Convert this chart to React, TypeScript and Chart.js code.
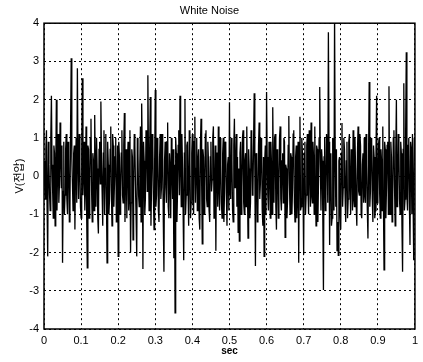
import React, { useEffect, useRef } from 'react';
import { Chart, registerables } from 'chart.js';

Chart.register(...registerables);

const chartTitle = 'White Noise';
const xAxisLabel = 'sec';
const yAxisLabel = 'V(전압)';

const xTickValues = [0, 0.1, 0.2, 0.3, 0.4, 0.5, 0.6, 0.7, 0.8, 0.9, 1];
const xTickLabels = ['0', '0.1', '0.2', '0.3', '0.4', '0.5', '0.6', '0.7', '0.8', '0.9', '1'];
const yTickValues = [-4, -3, -2, -1, 0, 1, 2, 3, 4];
const yTickLabels = ['-4', '-3', '-2', '-1', '0', '1', '2', '3', '4'];

const durationSec = 1;

// Noise samples (even-numbered samples), evenly spaced over 1 s
const samplesEven = [
  0.4, -0.6, 1.2, -2.1, 0.3, -0.9, 2.1, -0.4, 0.8, -1.3,
  2.0, 0.2, -0.7, 1.4, -0.3, -2.27, 0.9, -0.5, 1.1, -1.0,
  0.5, -0.8, 3.08, -0.2, 0.6, -1.4, 1.0, 2.82, -0.6, 0.3,
  -1.1, 2.56, 0.1, -0.9, 1.3, -2.4, 0.7, -0.3, 1.5, -1.2,
  0.4, 1.6, -0.8, 0.2, -1.5, 0.9, 1.95, -0.4, 0.6, -1.0,
  1.1, -2.27, 0.3, -0.6, 1.3, -1.3, 0.8, -0.2, 1.0, -0.9,
  -2.1, 0.5, -0.4, 1.2, -0.7, 1.65, 0.1, -1.1, 0.9, -0.5,
  -2.0, 0.7, -1.67, 1.1, -0.3, -2.1, 0.6, -0.8, 1.3, 1.9,
  -2.43, 0.4, -0.6, 1.0, 2.64, -0.9, 2.07, -0.2, 0.8, -1.4,
  2.25, -0.5, 0.7, -1.2, 1.1, -0.3, 0.5, -2.5, 0.9, -0.7,
  1.4, -1.1, 0.2, 1.0, -0.6, -2.15, -3.58, 0.6, -0.4, 1.2,
  2.1, -0.8, 0.3, -2.2, 2.0, -0.5, 0.9, -1.3, 0.4, -0.7,
  1.1, -1.0, 1.55, 0.2, -0.9, 0.7, -1.4, 1.5, -1.77, 0.5,
  -0.3, 1.2, -0.8, 0.4, -1.2, 0.9, -0.1, 1.3, -0.6, -1.95,
  0.6, 1.3, -0.9, 0.3, -1.1, 1.0, -0.4, 0.8, -1.3, 0.5,
  1.93, -0.6, 0.4, -1.2, 1.5, 0.1, -0.8, -1.47, -1.7, 0.9,
  -0.3, 1.2, -1.0, 0.6, 1.3, -1.62, 0.2, -0.7, 1.0, -0.4,
  2.17, -2.35, 0.5, -0.9, 1.4, -0.2, 0.7, -1.3, -2.1, 0.8,
  2.2, -0.5, 0.9, -1.1, 0.3, 1.8, -0.7, 1.1, -1.4, 0.4,
  -0.2, 1.3, -0.9, 0.6, 1.0, -1.6, 0.2, -0.6, 1.57, -1.0,
  0.5, -0.3, 1.2, -1.2, 0.8, -0.4, -2.27, 1.55, -0.8, 0.6,
  -2.05, 0.9, -0.5, 1.1, -1.0, 0.3, 1.4, -0.7, 0.5, 1.3,
  -1.3, 0.7, -0.2, 2.33, -0.9, 0.4, -2.98, 1.0, -0.6, 0.8,
  3.76, -1.8, 0.6, -1.1, 0.9, 4.2, -0.8, -1.95, -2.07, 0.5,
  -1.4, 1.39, -0.3, 0.7, -1.2, 0.9, -0.6, 1.1, -1.0, 0.4,
  1.2, -0.8, 0.2, -1.3, 1.3, -0.5, 0.8, -1.1, 0.6, 1.0,
  -0.7, 0.3, -1.63, 2.46, -0.4, 0.9, -1.2, 0.5, -0.9, 2.1,
  -0.6, 1.0, -1.1, 0.4, 1.3, -2.45, 0.7, -0.3, 0.9, 2.35,
  -1.0, 0.5, -0.7, 1.2, -1.3, 2.0, -0.4, 0.8, -1.0, 0.6,
  -2.5, 2.43, -0.6, 3.24, -0.9, 1.0, -1.8, 0.7, 1.1, -2.2,
  0.4,
];

// Odd-numbered samples (between each pair of even samples)
const samplesOdd = [
  -0.2, 0.7, -0.8, 0.9, -0.5, 1.0, 0.3, -1.1, 0.6, 0.1,
  -0.9, 1.1, -0.2, 0.5, 0.8, -0.4, -1.0, 0.7, -0.6, 0.9,
  -1.2, 1.3, 0.5, -0.9, 0.8, 0.2, -0.7, 0.4, 1.1, -0.8,
  0.6, -0.5, 0.9, -0.3, -1.0, 0.8, -1.1, 1.0, -0.4, 0.6,
  -0.9, 0.3, 1.0, -1.1, 0.7, -0.2, 0.5, -1.3, 1.2, 0.2,
  -0.6, 0.9, -1.0, 0.7, -0.4, 1.1, -0.8, 0.5, -1.2, 0.8,
  0.9, -1.0, 0.6, -0.5, 0.8, -1.2, 0.7, 0.4, -0.9, 1.2,
  -0.7, 0.5, -0.3, 0.8, -1.1, 1.0, -0.5, 0.3, -1.2, 0.6,
  0.9, -1.0, 1.2, -0.4, 0.5, 0.8, -1.3, 1.1, -0.6, 0.4,
  -0.8, 1.0, -0.9, 0.5, -0.6, 1.1, -1.2, 0.4, -0.3, 0.9,
  -0.8, 0.6, -1.1, 0.2, 0.7, 0.3, 1.0, -1.2, 0.8, -0.5,
  0.4, 1.1, -0.9, 0.6, -1.0, 0.8, -0.4, 1.2, -1.1, 0.6,
  -0.5, 0.9, -0.7, 1.0, 0.4, -1.1, 0.8, -0.2, 0.7, -1.0,
  1.1, -0.6, 0.9, -0.9, 0.5, -0.4, 1.0, -1.1, 0.8, 0.6,
  -0.8, -0.3, 1.0, -0.7, 0.6, -1.2, 0.9, -0.5, 0.3, -0.9,
  -0.4, 1.0, -0.9, 0.8, -0.3, 1.1, 0.5, 0.2, 0.6, -1.0,
  1.0, -0.7, 0.4, -0.8, -0.2, 0.7, -1.1, 1.2, -0.5, 0.9,
  0.3, 0.6, -1.2, 0.8, -0.6, 1.0, -0.9, 0.5, 0.4, -1.0,
  0.5, -0.9, 0.3, 0.9, -1.0, 0.2, 1.0, -0.8, 0.7, -1.1,
  1.0, -0.6, 0.4, -0.7, 0.9, 0.3, -1.1, 0.8, -0.2, 0.6,
  -1.0, 1.1, -0.7, 0.5, -1.1, 0.9, 0.6, -0.9, 1.0, -0.5,
  0.6, -1.0, 0.8, -0.4, 1.2, -0.8, -0.5, 0.9, -1.0, -0.2,
  0.8, -1.2, 1.0, 0.3, 0.7, -1.1, 0.5, -0.9, 1.1, -0.7,
  0.9, 0.4, -1.3, 1.0, -0.9, 0.6, 0.7, -1.2, 0.4, -1.0,
  0.6, -0.8, 1.0, -0.5, 0.4, -1.1, 0.9, -0.3, 0.7, -0.9,
  -0.6, 1.0, -0.8, 0.6, -0.4, 1.1, -1.0, 0.3, -0.7, -0.5,
  1.1, -0.9, 0.5, -0.8, 1.0, -0.6, 0.8, -1.1, 0.6, -0.7,
  0.8, -0.5, 0.7, -0.9, -0.6, 0.9, -1.1, 0.8, -1.0, -0.4,
  0.9, -1.2, 1.0, -0.3, 0.6, -0.8, 1.1, -0.6, 0.9, -1.3,
  0.7, -0.9, 1.2, -0.5, 0.8, -0.7, 0.9, -1.0, -0.6, 1.0,
];

const FONT = '"Liberation Sans", Arial, "Noto Sans CJK KR", sans-serif';

const framePlugin = {
  id: 'frameBox',
  afterDatasetsDraw(chart: any) {
    const { ctx, chartArea } = chart;
    const { left, top, right, bottom } = chartArea;
    ctx.save();
    ctx.strokeStyle = '#000';
    ctx.lineWidth = 1.5;
    ctx.strokeRect(left, top, right - left, bottom - top);
    ctx.restore();
  },
};

export default function App() {
  const canvasRef = useRef<HTMLCanvasElement | null>(null);

  useEffect(() => {
    document.body.style.margin = '0';
    const canvas = canvasRef.current;
    if (!canvas) return;

    const samples: number[] = [];
    samplesEven.forEach((v, i) => {
      samples.push(v);
      if (i < samplesOdd.length) samples.push(samplesOdd[i]);
    });
    const n = samples.length - 1;
    const points = samples.map((v, i) => ({ x: (i / n) * durationSec, y: v }));

    const chart = new Chart(canvas, {
      type: 'line',
      data: {
        datasets: [
          {
            data: points,
            borderColor: '#000',
            borderWidth: 1.3,
            pointRadius: 0,
            tension: 0,
            fill: false,
          },
        ],
      },
      options: {
        responsive: false,
        animation: false,
        devicePixelRatio: 1,
        layout: { padding: { left: 0, right: 4, top: 0, bottom: 0 } },
        plugins: {
          legend: { display: false },
          tooltip: { enabled: false },
          title: {
            display: true,
            text: chartTitle,
            color: '#000',
            font: { family: FONT, size: 11, weight: 'normal' },
            padding: { top: 4, bottom: 6 },
          },
        },
        scales: {
          x: {
            type: 'linear',
            min: 0,
            max: 1,
            afterBuildTicks: (scale: any) => {
              scale.ticks = xTickValues.map((v) => ({ value: v }));
            },
            afterFit: (scale: any) => {
              scale.height = 33;
            },
            ticks: {
              color: '#000',
              font: { family: FONT, size: 11 },
              padding: 5,
              maxRotation: 0,
              autoSkip: false,
              callback: (_v: any, i: number) => xTickLabels[i],
            },
            grid: {
              color: '#000',
              lineWidth: 1,
              drawTicks: false,
            },
            border: { display: false, dash: [2, 3] },
            title: {
              display: true,
              text: xAxisLabel,
              color: '#000',
              font: { family: FONT, size: 10, weight: 'bold' },
              padding: { top: 0, bottom: 5 },
            },
          },
          y: {
            type: 'linear',
            min: -4,
            max: 4,
            afterBuildTicks: (scale: any) => {
              scale.ticks = yTickValues.map((v) => ({ value: v }));
            },
            afterFit: (scale: any) => {
              scale.width = 44;
            },
            ticks: {
              color: '#000',
              font: { family: FONT, size: 11 },
              padding: 5,
              autoSkip: false,
              callback: (_v: any, i: number) => yTickLabels[i],
            },
            grid: {
              color: '#000',
              lineWidth: 1,
              drawTicks: false,
            },
            border: { display: false, dash: [2, 3] },
            title: {
              display: true,
              text: yAxisLabel,
              color: '#000',
              font: { family: FONT, size: 11 },
              padding: { top: 13, bottom: 0 },
            },
          },
        },
      },
      plugins: [framePlugin],
    });

    return () => chart.destroy();
  }, []);

  return <canvas ref={canvasRef} width={423} height={362} style={{ display: 'block' }} />;
}
